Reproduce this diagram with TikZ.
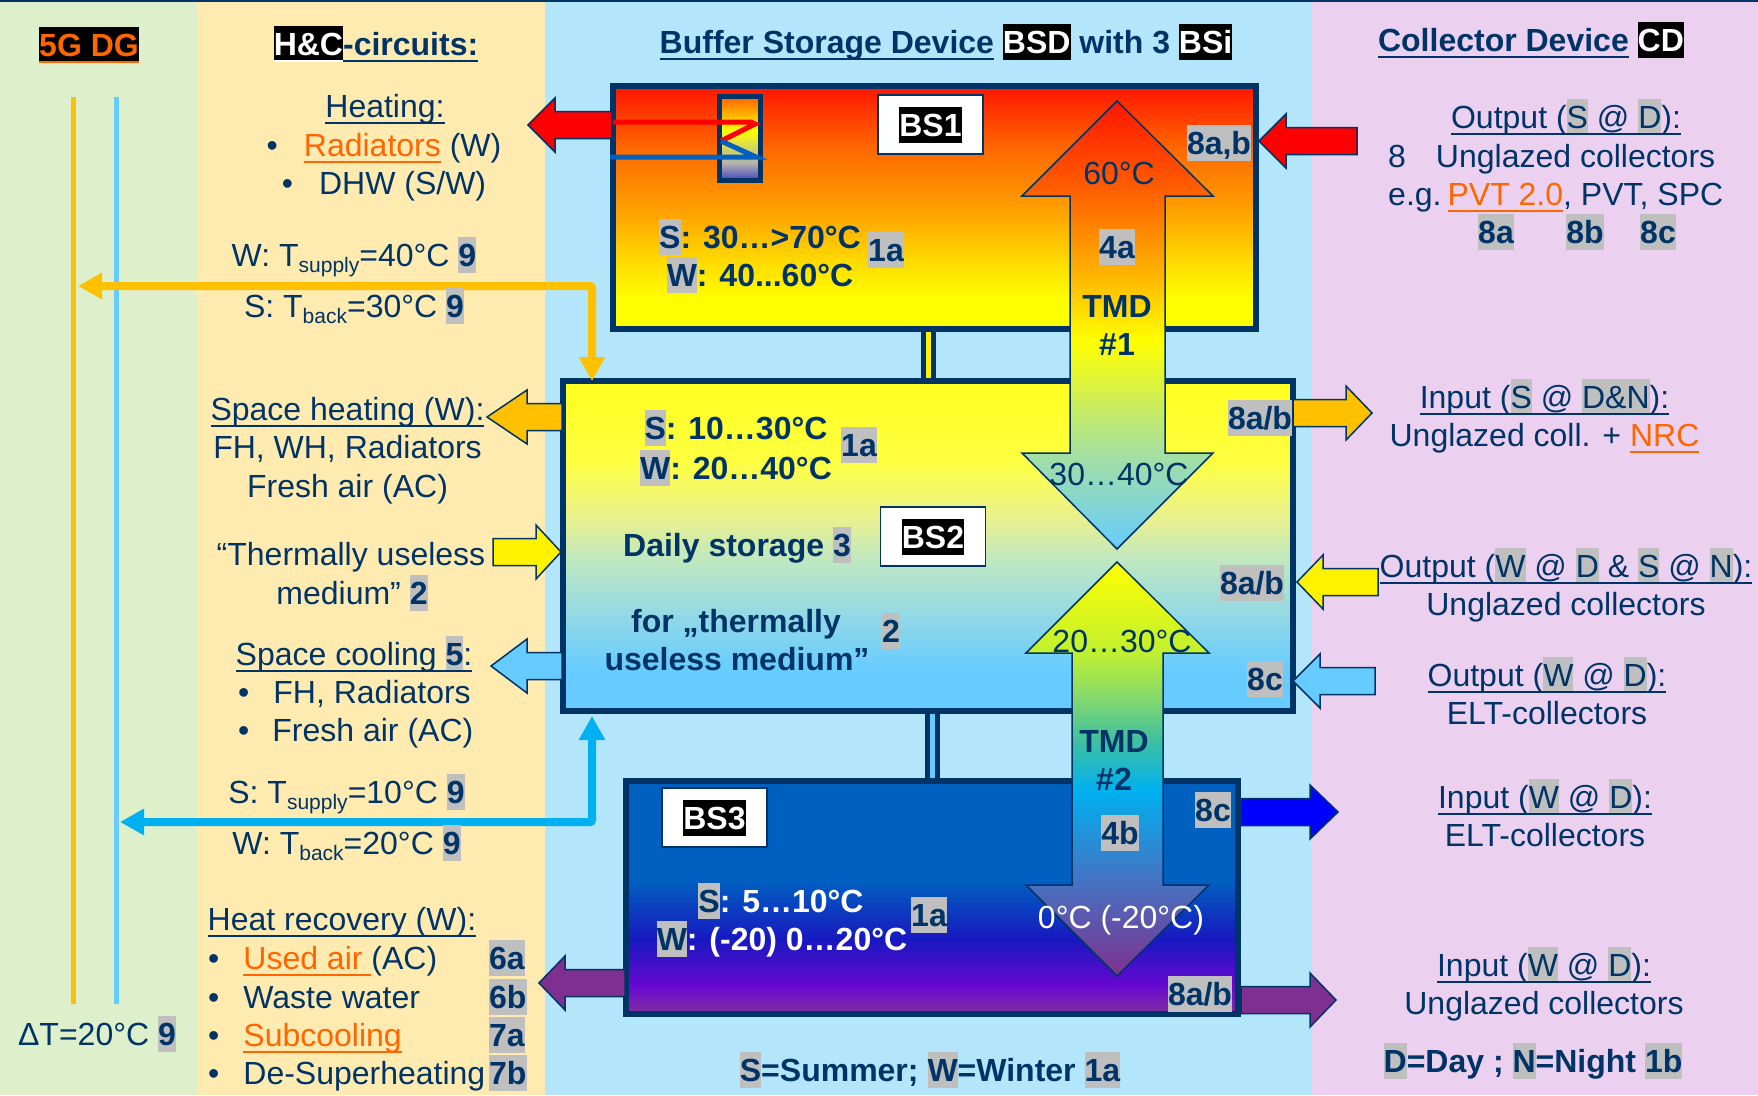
\documentclass[tikz,border=0pt]{standalone}
\usepackage{fontspec}
\setmainfont{Liberation Sans}
\usepackage{xcolor}
\usepackage{tikz}
\usetikzlibrary{arrows.meta,positioning}
\definecolor{navy}{HTML}{003366}
\definecolor{orng}{HTML}{FF6600}
\definecolor{hlgrey}{HTML}{BFBFBF}
\definecolor{pipeo}{HTML}{FFC000}
\definecolor{pipeb}{HTML}{00B0F0}
\definecolor{sky}{HTML}{66CCFF}
\definecolor{plum}{HTML}{7F2F8F}
\definecolor{pgreen}{HTML}{DEEFCC}
\definecolor{pyellow}{HTML}{FFEBB0}
\definecolor{pblue}{HTML}{B3E6FA}
\definecolor{ppink}{HTML}{EBD1EF}
\definecolor{coldline}{HTML}{0060C0}
\definecolor{onea}{HTML}{FFDA00}
\definecolor{oneb}{HTML}{FFA000}
\definecolor{onec}{HTML}{FF6A00}
\definecolor{oned}{HTML}{FF1500}
\definecolor{twoa}{HTML}{90D8E8}
\definecolor{twob}{HTML}{C0E8C0}
\definecolor{twoc}{HTML}{E8F090}
\definecolor{twod}{HTML}{FFFF40}
\definecolor{twoe}{HTML}{FFFF20}
\definecolor{threea}{HTML}{8030A0}
\definecolor{threeb}{HTML}{6808D0}
\definecolor{threec}{HTML}{1818C0}
\definecolor{tmda}{HTML}{A5E0A0}
\definecolor{tmdb}{HTML}{FFB000}
\definecolor{tmdc}{HTML}{FF6000}
\definecolor{tmdd}{HTML}{4870C0}
\definecolor{tmde}{HTML}{40C0A0}
\definecolor{tmdf}{HTML}{80D870}
\definecolor{tmdg}{HTML}{C0F030}
\definecolor{coila}{HTML}{4040C0}
\definecolor{coilb}{HTML}{B0B0B0}
\setlength{\fboxsep}{0pt}
\newsavebox{\ulinebox}
\newcommand{\uline}[1]{\sbox{\ulinebox}{#1}\usebox{\ulinebox}\llap{\rule[-6.5pt]{\wd\ulinebox}{2.5pt}}}
\newcommand{\boxstrut}{\rule[-6.5pt]{0pt}{36pt}}
\newcommand{\gbox}[1]{\colorbox{hlgrey}{\boxstrut #1}}
\newcommand{\kbox}[1]{\colorbox{black}{\boxstrut\textcolor{white}{\bfseries #1}}}
\newcommand{\tg}[1]{\gbox{\bfseries #1}}
\newcommand{\lowtext}[1]{\raisebox{-6pt}{\fontsize{21}{21}\selectfont #1}}
\newcommand{\blockarrow}[5]{\filldraw[flow,fill=#1] (#2,#5-13.5) -- (#3,#5-13.5) -- (#3,#5-27) -- (#4,#5) -- (#3,#5+27) -- (#3,#5+13.5) -- (#2,#5+13.5) -- cycle;}
\pgfdeclareverticalshading{bsone}{100bp}{color(0bp)=(yellow); color(31bp)=(yellow); color(39bp)=(onea); color(49.5bp)=(oneb); color(61.8bp)=(onec); color(75bp)=(oned); color(100bp)=(oned)}
\pgfdeclareverticalshading{bstwo}{100bp}{color(0bp)=(sky); color(31bp)=(sky); color(39bp)=(twoa); color(48bp)=(twob); color(54bp)=(twoc); color(63bp)=(twod); color(75bp)=(twoe); color(100bp)=(twoe)}
\pgfdeclareverticalshading{bsthree}{100bp}{color(0bp)=(threea); color(25bp)=(threea); color(31bp)=(threeb); color(41bp)=(threec); color(53.7bp)=(coldline); color(100bp)=(coldline)}
\pgfdeclareverticalshading{tmdone}{100bp}{color(0bp)=(sky); color(25bp)=(sky); color(35.7bp)=(tmda); color(48.3bp)=(yellow); color(56bp)=(tmdb); color(65bp)=(tmdc); color(75bp)=(oned); color(100bp)=(oned)}
\pgfdeclareverticalshading{tmdtwo}{100bp}{color(0bp)=(plum); color(25bp)=(plum); color(36bp)=(tmdd); color(47.4bp)=(pipeb); color(53.5bp)=(tmde); color(58.3bp)=(tmdf); color(64bp)=(tmdg); color(75bp)=(yellow); color(100bp)=(yellow)}
\pgfdeclareverticalshading{hxcoil}{100bp}{color(0bp)=(coila); color(25bp)=(coila); color(35bp)=(coilb); color(55bp)=(yellow); color(75bp)=(tmdc); color(100bp)=(tmdc)}

\begin{document}
\begin{tikzpicture}[
  x=1pt, y=-1pt, node distance=15pt,
  every node/.style={font=\fontsize{32}{36}\selectfont, text=navy, inner sep=0pt, text height=23pt, text depth=0pt},
  bld/.style={font=\fontsize{32}{36}\selectfont\bfseries},
  tank/.style={draw=navy, line width=6pt, shade, minimum width=#1},
  tankh/.style={minimum height=#1},
  tagbox/.style={draw=navy, line width=1.5pt, fill=white, minimum width=105pt, minimum height=59pt, text height=, text depth=},
  flow/.style={draw=navy, line width=1.5pt},
  tmd/.style={draw=navy, line width=1.5pt, shade},
  rail/.style={line width=5pt},
  pipe/.style={line width=8pt, rounded corners=2pt, {Triangle[length=24pt,width=25pt]}-{Triangle[length=24pt,width=25pt]}},
  link/.style={draw=navy, line width=5pt, double distance=5pt}
]
\useasboundingbox (0,0) rectangle (1758,1095);
\fill[pgreen] (0,0) rectangle (197,1095);
\fill[pyellow] (197,0) rectangle (545,1095);
\fill[pblue] (545,0) rectangle (1311,1095);
\fill[ppink] (1311,0) rectangle (1758,1095);
\fill[navy] (0,0) rectangle (1758,2);

\coordinate (railotop) at (73,97);
\coordinate (railobot) at (73,1003.5);
\coordinate (railbtop) at (116.5,97);
\coordinate (railbbot) at (116.5,1003.5);
\draw[rail, pipeo] (railotop) -- (railobot);
\draw[rail, sky] (railbtop) -- (railbbot);

\node[tank=643pt, tankh=243pt, shading=bsone] (bs1) at (934.5,207.5) {};
\node[tank=730pt, tankh=330pt, shading=bstwo] (bs2) at (928,546) {};
\node[tank=612.5pt, tankh=233pt, shading=bsthree] (bs3) at (932,897.5) {};
\draw[link, double=yellow] (bs2.north) -- (bs2.north |- bs1.south);
\draw[link, double=sky] (bs3.north) -- (bs3.north |- bs2.south);

\node[draw=navy, line width=5pt, shade, shading=hxcoil, minimum width=41pt, minimum height=84pt] (coil) at (740,138.5) {};
\coordinate (hotin) at (612,122);
\coordinate (hotout) at (751,122);
\coordinate (hotzig) at (721,141);
\coordinate (coldin) at (610,157);
\coordinate (coldout) at (756,157);
\draw[line width=5pt, red] (hotin) -- (hotout) -- (755,124) -- (hotzig);
\draw[line width=5pt, coldline] (hotzig) -- (coldout) -- (coldin);

\node[tagbox] (tagone) at (930.5,124.5) {\kbox{BS1}};
\node[tagbox] (tagtwo) at (933,536.5) {\kbox{BS2}};
\node[tagbox] (tagthree) at (714.5,817.5) {\kbox{BS3}};

\blockarrow{red}{612}{555}{528}{125}
\blockarrow{red}{1357}{1286}{1259}{141}
\blockarrow{pipeo}{562}{527}{487}{417}
\blockarrow{yellow}{493}{536}{561}{552}
\blockarrow{sky}{562}{527}{491}{666}
\blockarrow{pipeo}{1293}{1346}{1372}{413}
\blockarrow{yellow}{1378}{1323}{1297}{582}
\blockarrow{sky}{1375}{1320}{1293}{681}
\blockarrow{blue}{1241}{1310}{1338}{812}
\blockarrow{plum}{1241}{1310}{1336}{1000}
\blockarrow{plum}{625}{565}{539}{983}

\path[tmd, shading=tmdone] (1117,101) -- (1213,196) -- (1165,196) -- (1165,453) -- (1213,453) -- (1117,549) -- (1022,453) -- (1070,453) -- (1070,196) -- (1022,196) -- cycle;
\path[tmd, shading=tmdtwo] (1117,562) -- (1209,653) -- (1163,653) -- (1163,885) -- (1209,885) -- (1117,976) -- (1026,885) -- (1072,885) -- (1072,653) -- (1026,653) -- cycle;

\coordinate (ogrid) at (78,286);
\coordinate (otank) at (592,381);
\coordinate (bgrid) at (120,822);
\coordinate (btank) at (592,716);
\draw[pipe, pipeo] (ogrid) -| (otank);
\draw[pipe, pipeb] (bgrid) -| (btank);

\node[bld] (dgtitle) at (89,45) {\textcolor{orng}{\uline{\colorbox{black}{\boxstrut 5G DG}}}};
\node[bld] (hctitle) at (376,44) {\textcolor{white}{\uline{\kbox{H\&C}}}\uline{-circuits:}};
\node[bld] (bsdtitle) at (946,42) {\uline{Buffer Storage Device} \kbox{BSD} with 3 \kbox{BSi}};
\node[bld] (cdtitle) at (1531,40) {\uline{Collector Device} \kbox{CD}};

\node (heating) at (385,106) {\uline{Heating:}};
\node (radiators) at (384,145) {•\hspace{26pt}\textcolor{orng}{\uline{Radiators}} (W)};
\node (dhw) at (384,183) {•\hspace{26pt}DHW (S/W)};
\node (wsupply) at (354,255) {W: T\lowtext{supply}=40°C \tg{9}};
\node (sback) at (354,306) {S: T\lowtext{back}=30°C \tg{9}};
\node (spaceheat) at (347.5,409) {\uline{Space heating (W):}};
\node[below=of spaceheat] (fhwh) {FH, WH, Radiators};
\node[below=of fhwh] (freshh) {Fresh air (AC)};
\node (useless) at (351,554) {“Thermally useless};
\node (medium) at (352,593) {medium” \tg{2}};
\node (spacecool) at (354,654) {\uline{Space cooling \tg{5}:}};
\node[anchor=west] (fhrad) at (238,692) {•\hspace{24pt}FH, Radiators};
\node[anchor=west] (freshc) at (238,730) {•\hspace{23pt}Fresh air (AC)};
\node (ssupply) at (346.5,792) {S: T\lowtext{supply}=10°C \tg{9}};
\node (wback) at (346.5,843) {W: T\lowtext{back}=20°C \tg{9}};
\node[anchor=west] (recovery) at (207.5,919) {\uline{Heat recovery (W):}};
\node[anchor=west] (usedair) at (208,958) {•\hspace{24pt}\textcolor{orng}{\uline{Used air }}(AC)};
\node[anchor=west] (waste) at (208,997) {•\hspace{24pt}Waste water};
\node[anchor=west] (subcool) at (208,1035) {•\hspace{24pt}\textcolor{orng}{\uline{Subcooling}}};
\node[anchor=west] (desuper) at (208,1073) {•\hspace{24pt}De-Superheating};
\node[anchor=west, bld] (tsixa) at (489,958) {\gbox{6a}};
\node[anchor=west, bld] (tsixb) at (489,997) {\gbox{6b}};
\node[anchor=west, bld] (tsevena) at (489,1035) {\gbox{7a}};
\node[anchor=west, bld] (tsevenb) at (489,1073) {\gbox{7b}};
\node (deltat) at (97,1034) {ΔT=20°C \tg{9}};

\node[bld] (bsonews) at (760,237) {\gbox{S}: 30…>70°C};
\node[bld] (bsonew) at (760,275) {\gbox{W}: 40...60°C};
\node[bld] (bsoneref) at (886,250) {\gbox{1a}};
\node (tmdhot) at (1119,173) {60°C};
\node[bld] (tfoura) at (1117,247) {\gbox{4a}};
\node[bld] (tmdonelbl) at (1117,306) {TMD};
\node[bld, below=of tmdonelbl] (tmdonenr) {\#1};
\node[bld] (teighta) at (1219,143) {\gbox{8a,b}};

\node[bld] (bstwos) at (736,428) {\gbox{S}: 10…30°C};
\node[bld] (bstwow) at (736,467.5) {\gbox{W}: 20…40°C};
\node[bld] (bstworef) at (859,445) {\gbox{1a}};
\node[bld] (daily) at (737,545) {Daily storage \gbox{3}};
\node[bld] (forth) at (736,621) {for „thermally};
\node[bld] (uselessm) at (737,659) {useless medium”};
\node[bld] (ttwo) at (891,631) {\gbox{2}};
\node (tmdmid) at (1119,474) {30…40°C};
\node (tmdlow) at (1122,641) {20…30°C};
\node[bld] (tmdtwolbl) at (1114,741) {TMD};
\node[bld, below=of tmdtwolbl] (tmdtwonr) {\#2};
\node[bld] (teightb) at (1260,418) {\gbox{8a/b}};
\node[bld] (teightc) at (1252,583) {\gbox{8a/b}};
\node[bld] (teightd) at (1265,679) {\gbox{8c}};

\node[bld] (teighte) at (1213,810) {\gbox{8c}};
\node[bld] (tfourb) at (1120,833) {\gbox{4b}};
\node[text=white] (tmdcold) at (1121,917) {0°C (-20°C)};
\node[bld, text=white] (bsthrees) at (781,901) {\gbox{\textcolor{navy}{S}}: 5…10°C};
\node[bld, text=white] (bsthreew) at (782,939) {\gbox{\textcolor{navy}{W}}: (-20) 0…20°C};
\node[bld] (bsthreeref) at (929,915) {\gbox{1a}};
\node[bld] (teightf) at (1200,994) {\gbox{8a/b}};
\node[bld] (season) at (930,1070) {\gbox{S}=Summer; \gbox{W}=Winter \gbox{1a}};

\node (outsd) at (1566,117) {\uline{Output (\gbox{S} @ \gbox{D}):}};
\node[anchor=west] (eightun) at (1388,156) {8\hspace{30pt}Unglazed collectors};
\node[anchor=west] (pvt) at (1388,194) {e.g.\hspace{6pt}\textcolor{orng}{\uline{PVT 2.0}}, PVT, SPC};
\node[bld] (refa) at (1496,232) {\gbox{8a}};
\node[bld] (refb) at (1585,232) {\gbox{8b}};
\node[bld] (refc) at (1658,232) {\gbox{8c}};
\node (inputsdn) at (1544.5,397) {\uline{Input (\gbox{S} @ \gbox{D\&N}):}};
\node[below=of inputsdn] (nrc) {Unglazed coll. + \textcolor{orng}{\uline{NRC}}};
\node (outwdsn) at (1566,566) {\uline{Output (\gbox{W} @ \gbox{D} \& \gbox{S} @ \gbox{N}):}};
\node[below=of outwdsn] (unglazedb) {Unglazed collectors};
\node (outwd) at (1547,675) {\uline{Output (\gbox{W} @ \gbox{D}):}};
\node[below=of outwd] (elta) {ELT-collectors};
\node (inwd) at (1545,797) {\uline{Input (\gbox{W} @ \gbox{D}):}};
\node[below=of inwd] (eltb) {ELT-collectors};
\node (inwdb) at (1544,965) {\uline{Input (\gbox{W} @ \gbox{D}):}};
\node[below=of inwdb] (unglazedc) {Unglazed collectors};
\node[bld] (daynight) at (1533,1061) {\gbox{D}=Day ; \gbox{N}=Night \gbox{1b}};
\end{tikzpicture}
\end{document}
